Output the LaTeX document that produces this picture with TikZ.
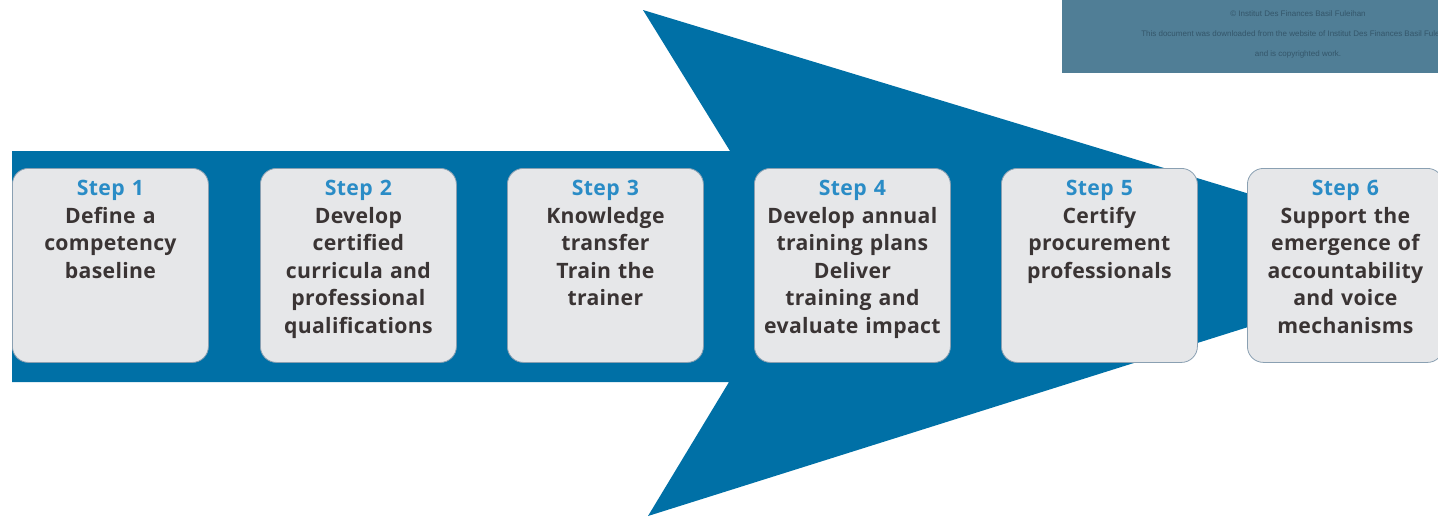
\documentclass[tikz,border=0pt]{standalone}
\usepackage{fontspec}
\setmainfont{Open Sans}
\newfontfamily\wmfont{Liberation Sans}
\definecolor{arrowblue}{HTML}{0070A6}
\definecolor{boxfill}{HTML}{E6E7E9}
\definecolor{boxline}{HTML}{8AA0B2}
\definecolor{steptitle}{HTML}{2A8CC6}
\definecolor{steptext}{HTML}{3A3434}
\definecolor{wmbg}{HTML}{507E96}
\definecolor{wmtext}{HTML}{34566A}
\tikzset{
  stepbox/.style={draw=boxline, line width=0.4pt, fill=boxfill, rounded corners=8pt,
    minimum width=98pt, minimum height=97pt, inner sep=0pt},
  steplabel/.style={anchor=north, align=center, text width=100pt, inner sep=0pt,
    font=\fontsize{10.6}{13.75}\selectfont\bfseries\addfontfeature{LetterSpace=1.5}, text=steptext},
  wmlabel/.style={font=\wmfont\fontsize{4}{4.5}\selectfont, text=wmtext, inner sep=0pt}
}
\newcommand{\steptitle}[1]{\textcolor{steptitle}{#1}}
\begin{document}
\begin{tikzpicture}[x=0.5pt,y=-0.5pt]
\useasboundingbox (0,0) rectangle (1438,516);
\begin{scope}
\clip (0,0) rectangle (1438,516);
\fill[arrowblue] (12,151) -- (730,151) -- (643,10) -- (1464,259) -- (648,516) -- (729,382) -- (12,382) -- cycle;
\end{scope}
% boxes
\foreach \i/\x in {1/12,2/260,3/507,4/754,5/1001,6/1247}{
  \node[stepbox, anchor=north west] (b\i) at (\x,168) {};
}
\node[steplabel] (t1) at ([yshift=-6pt]b1.north) {\steptitle{Step 1}\\Define a\\competency\\baseline};
\node[steplabel] (t2) at ([yshift=-6pt]b2.north) {\steptitle{Step 2}\\Develop\\certified\\curricula and\\professional\\qualifications};
\node[steplabel] (t3) at ([yshift=-6pt]b3.north) {\steptitle{Step 3}\\Knowledge\\transfer\\Train the\\trainer};
\node[steplabel] (t4) at ([yshift=-6pt]b4.north) {\steptitle{Step 4}\\Develop annual\\training plans\\Deliver\\training and\\evaluate impact};
\node[steplabel] (t5) at ([yshift=-6pt]b5.north) {\steptitle{Step 5}\\Certify\\procurement\\professionals};
\node[steplabel] (t6) at ([yshift=-6pt]b6.north) {\steptitle{Step 6}\\Support the\\emergence of\\accountability\\and voice\\mechanisms};
% watermark
\begin{scope}
\clip (0,0) rectangle (1438,516);
\fill[wmbg] (1062,0) rectangle (1438,73);
\node[wmlabel] (w1) at (1298,14) {© Institut Des Finances Basil Fuleihan};
\node[wmlabel] (w2) at (1298,34) {This document was downloaded from the website of Institut Des Finances Basil Fuleihan};
\node[wmlabel] (w3) at (1298,54) {and is copyrighted work.};
\end{scope}
\end{tikzpicture}
\end{document}
